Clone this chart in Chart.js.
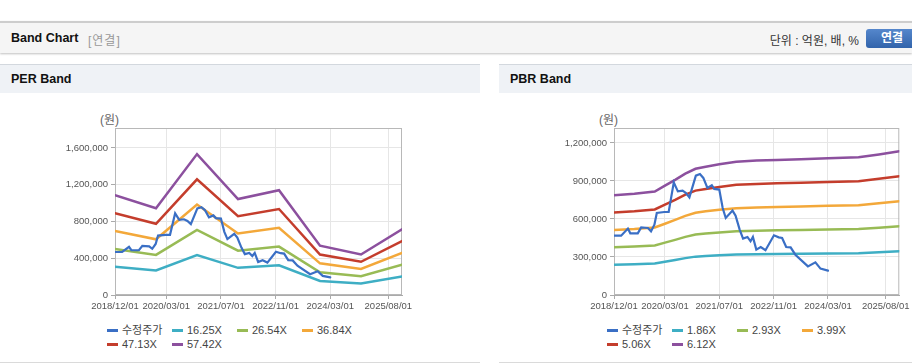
<!DOCTYPE html>
<html>
<head>
<meta charset="utf-8">
<script src="https://cdn.jsdelivr.net/npm/chart.js@4.4.1/dist/chart.umd.min.js"></script>
<style>
  body { margin: 0; width: 912px; height: 364px; background: #fff; position: relative; overflow: hidden;
         font-family: "Liberation Sans", Arial, "Noto Sans CJK KR", sans-serif; }
  .topbar { position: absolute; left: 0; top: 21px; width: 912px; height: 30px; background: #f5f5f5;
            border-top: 2px solid #cdcdcd; box-shadow: 0 1px 2px rgba(0,0,0,0.25); }
  .topbar .title { position: absolute; left: 11px; top: 8px; font-size: 12.5px; font-weight: bold; color: #111; }
  .topbar .sub { position: absolute; left: 88px; top: 8px; font-size: 12px; color: #999; letter-spacing: 1px; }
  .topbar .unit { position: absolute; right: 53px; top: 8px; font-size: 12px; color: #333; }
  .topbar .btn { position: absolute; left: 866px; top: 6px; width: 52px; height: 19px; border-radius: 3px;
                 background: linear-gradient(#5587cc, #3264ab); color: #fff; font-size: 12px; font-weight: bold;
                 line-height: 19px; text-indent: 15px; }
  .panel { position: absolute; top: 64px; height: 298px; border-bottom: 1px solid #dadada; }
  .panel .head { height: 28px; background: #eff2f6; border-top: 1px solid #d3d8de; }
  .panel .head span { position: absolute; left: 11px; top: 8px; font-size: 12.5px; font-weight: bold; color: #111; }
  .unitlbl { position: absolute; top: 110px; font-size: 12px; color: #666; }
  canvas { position: absolute; top: 93px; }
  .legend { position: absolute; font-size: 11px; color: #444; }
  .legend div { position: absolute; white-space: nowrap; height: 14px; line-height: 14px; }
  .legend i { display: inline-block; width: 11px; height: 3px; vertical-align: middle; margin-right: 4px; margin-top: -2px; }
</style>
</head>
<body>
<div class="topbar">
  <span class="title">Band Chart</span><span class="sub">[연결]</span>
  <span class="unit">단위 : 억원, 배, %</span>
  <span class="btn">연결</span>
</div>
<div class="panel" style="left:0;width:480px"><div class="head"><span>PER Band</span></div></div>
<div class="panel" style="left:499px;width:413px"><div class="head"><span>PBR Band</span></div></div>
<div class="unitlbl" style="left:100px">(원)</div>
<div class="unitlbl" style="left:599px">(원)</div>
<canvas id="perChart" width="480" height="225" style="left:0"></canvas>
<canvas id="pbrChart" width="413" height="225" style="left:499px"></canvas>
<div class="legend" id="perLegend" style="left:107px;top:323px"></div>
<div class="legend" id="pbrLegend" style="left:607px;top:323px"></div>
<script>
// x axis = months since 2018/12/01
const X_TICKS = [0, 15, 31, 47, 63, 80];
const X_TICK_LABELS = ['2018/12/01', '2020/03/01', '2021/07/01', '2022/11/01', '2024/03/01', '2025/08/01'];

// 수정주가 (adjusted price), same in both charts
const PRICE_MONTHS = [0, 2.1, 4.1, 4.8, 7, 8, 10, 10.9, 11.9, 12.6, 14.8, 16.1, 17.6, 18.8, 20.2, 21.2, 22.2,
  24.1, 25.3, 26.3, 27.5, 28.8, 29.5, 31, 32, 32.9, 34.9, 35.8, 37, 38, 39.3, 40.2, 40.9, 41.9, 43.2, 44.6,
  47.1, 48.5, 49.5, 50.7, 52, 53.4, 57.1, 59.3, 60.8, 63];
const PRICE_VALUES = [468000, 468000, 524000, 487000, 487000, 534000, 529000, 503000, 555000, 647000, 655000,
  655000, 889000, 818000, 824000, 805000, 771000, 942000, 955000, 924000, 845000, 866000, 837000, 832000,
  687000, 608000, 666000, 626000, 516000, 445000, 458000, 424000, 458000, 358000, 379000, 353000, 471000,
  455000, 450000, 379000, 376000, 318000, 226000, 258000, 208000, 192000];

// PER band
const PER_LABELS = ['수정주가', '16.25X', '26.54X', '36.84X', '47.13X', '57.42X'];
const PER_MONTHS = [0, 12, 24, 36, 48, 60, 72, 84];
const PER_1625 = [307000, 267300, 433900, 295400, 322600, 151900, 124600, 202300];
const PER_2654 = [501300, 436600, 708600, 482500, 526800, 248100, 203600, 330400];
const PER_3684 = [695900, 606000, 983600, 669800, 731300, 344500, 282600, 458700];
const PER_4713 = [890300, 775300, 1258400, 856800, 935500, 440700, 361500, 586800];
const PER_5742 = [1084700, 944600, 1533100, 1043900, 1139800, 536900, 440400, 714900];
const PER_Y_TICKS = [0, 400000, 800000, 1200000, 1600000];
const PER_Y_MAX = 1817000;

// PBR band
const PBR_LABELS = ['수정주가', '1.86X', '2.93X', '3.99X', '5.06X', '6.12X'];
const PBR_MONTHS = [0, 6, 12, 15, 18, 21, 24, 27, 31, 36, 42, 48, 55, 63, 72, 78, 84];
const PBR_186 = [239200, 242700, 248300, 262300, 276200, 291100, 302800, 307800, 313400, 319500, 322300,
  324000, 325500, 327900, 330200, 337200, 346000];
const PBR_293 = [376800, 382400, 391200, 413100, 435100, 458500, 477000, 484900, 493700, 503400, 507800,
  510400, 512800, 516600, 520100, 531200, 542900];
const PBR_399 = [513100, 520700, 532700, 562600, 592500, 624400, 649600, 660300, 672300, 685500, 691500,
  695100, 698300, 703400, 708200, 723400, 739300];
const PBR_506 = [650700, 660300, 675500, 713500, 751400, 791900, 823800, 837400, 852600, 869300, 876900,
  881500, 885500, 892100, 898200, 917400, 937600];
const PBR_612 = [787000, 798700, 817000, 862900, 908800, 957800, 996300, 1012900, 1031200, 1051400, 1060600,
  1066100, 1071000, 1079000, 1086300, 1109600, 1134000];
const PBR_Y_TICKS = [0, 300000, 600000, 900000, 1200000];
const PBR_Y_MAX = 1318000;

const COLORS = ['#3a6fc5', '#3eaec4', '#98bb55', '#f3a83a', '#c43d2c', '#8c509e'];
const TICK_FONT = { family: '"Liberation Sans", Arial', size: 9.5 };

// draws the light box round the plot area
const boxPlugin = {
  id: 'plotBox',
  beforeDatasetsDraw(chart) {
    const a = chart.chartArea, ctx = chart.ctx;
    ctx.save();
    ctx.strokeStyle = '#b8b8b8';
    ctx.lineWidth = 1;
    ctx.strokeRect(a.left + 0.5, a.top + 0.5, a.right - a.left - 1, a.bottom - a.top - 1);
    ctx.restore();
  }
};

function points(xs, ys) {
  return xs.map((x, i) => ({ x: x, y: ys[i] }));
}

function makeChart(canvasId, legendId, labels, bandMonths, bands, yTicks, yMax, padRight) {
  const datasets = [{
    label: labels[0],
    data: points(PRICE_MONTHS, PRICE_VALUES),
    borderColor: COLORS[0],
    borderWidth: 2.2,
    order: 0
  }];
  bands.forEach((b, i) => {
    datasets.push({
      label: labels[i + 1],
      data: points(bandMonths, b),
      borderColor: COLORS[i + 1],
      borderWidth: 2.5,
      order: 1
    });
  });

  new Chart(document.getElementById(canvasId), {
    type: 'line',
    data: { datasets: datasets },
    options: {
      responsive: false,
      animation: false,
      events: [],
      elements: { point: { radius: 0 }, line: { tension: 0, borderCapStyle: 'round' } },
      layout: { padding: { left: 0, top: 35, right: padRight, bottom: 0 } },
      plugins: { legend: { display: false }, tooltip: { enabled: false } },
      scales: {
        x: {
          type: 'linear',
          min: 0,
          max: 84,
          bounds: 'data',
          afterBuildTicks: s => { s.ticks = X_TICKS.map(v => ({ value: v })); },
          afterFit: s => { s.height = 23; },
          ticks: {
            autoSkip: false, maxRotation: 0, padding: 2, color: '#555', font: TICK_FONT,
            callback: v => X_TICK_LABELS[X_TICKS.indexOf(v)]
          },
          grid: { color: '#e6e6e6', tickColor: '#aaa', tickLength: 4 },
          border: { color: '#aaa' }
        },
        y: {
          min: 0,
          max: yMax,
          bounds: 'data',
          afterBuildTicks: s => { s.ticks = yTicks.map(v => ({ value: v })); },
          afterFit: s => { s.width = 115; },
          ticks: {
            padding: 3, color: '#555', font: TICK_FONT,
            callback: v => v.toLocaleString('en-US')
          },
          grid: { color: '#e6e6e6', tickColor: '#aaa', tickLength: 4 },
          border: { color: '#aaa' }
        }
      }
    },
    plugins: [boxPlugin]
  });

  // legend in a 4 column grid like the original
  const box = document.getElementById(legendId);
  labels.forEach((lab, i) => {
    const d = document.createElement('div');
    d.style.left = (i % 4) * 65 + 'px';
    d.style.top = Math.floor(i / 4) * 14 + 'px';
    d.innerHTML = '<i style="background:' + COLORS[i] + '"></i>' + lab;
    box.appendChild(d);
  });
}

makeChart('perChart', 'perLegend', PER_LABELS, PER_MONTHS,
  [PER_1625, PER_2654, PER_3684, PER_4713, PER_5742], PER_Y_TICKS, PER_Y_MAX, 78);
makeChart('pbrChart', 'pbrLegend', PBR_LABELS, PBR_MONTHS,
  [PBR_186, PBR_293, PBR_399, PBR_506, PBR_612], PBR_Y_TICKS, PBR_Y_MAX, 11);
</script>
</body>
</html>
